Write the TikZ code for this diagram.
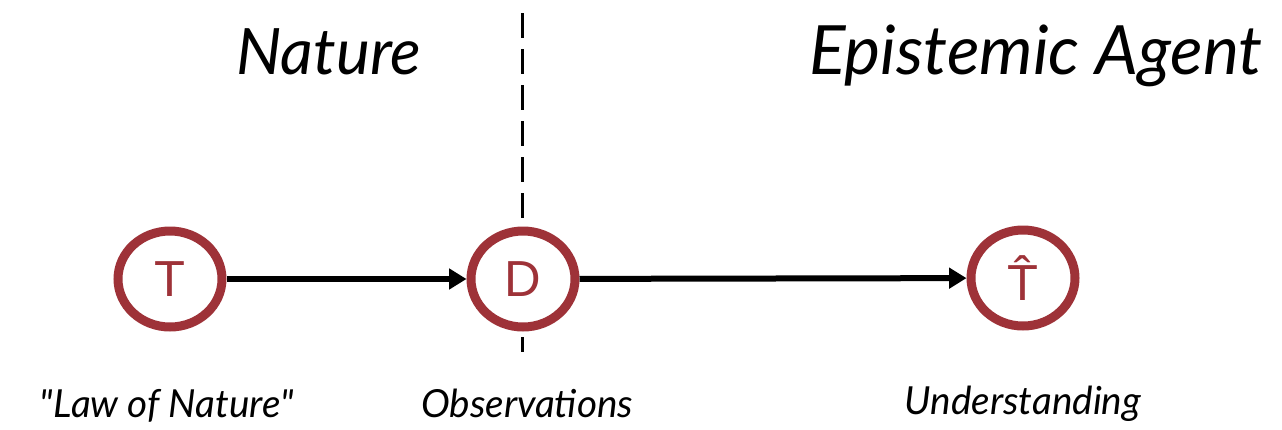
\documentclass[tikz,border=0pt]{standalone}
\usepackage{fontspec}
\setmainfont{Lato}
\newfontfamily\arialfont{Liberation Sans}
\usetikzlibrary{shapes.geometric,arrows.meta}
\definecolor{nodered}{RGB}{158,50,56}
\tikzset{
  var/.style={ellipse, draw=nodered, fill=white, line width=6.75pt, minimum width=78pt, minimum height=72pt, inner sep=0pt, text=nodered, font=\arialfont\fontsize{38}{40}\selectfont},
  conn/.style={line width=4.5pt, -{Triangle[length=13pt,width=15pt]}, shorten >=0pt},
  head/.style={font=\itshape\fontsize{48}{54}\selectfont, anchor=base},
  lab/.style={font=\itshape\fontsize{29}{34}\selectfont, anchor=base},
}
\begin{document}
\begin{tikzpicture}[x=0.75pt,y=-0.75pt]
\useasboundingbox (0,0) rectangle (1282,429);
\coordinate (dtop) at (522,13);
\coordinate (dbot) at (522,352);
\draw[line width=2.25pt, dash pattern=on 19pt off 8pt] (dtop) -- (dbot);
\node[var] (T) at (170,279) {T};
\node[var] (D) at (523,279) {D};
\node[var] (Th) at (1023,278) {\^{T}};
\draw[conn] (T) -- (D);
\draw[conn] (D) -- (Th);
\node[head] (nat) at (329,74) {Nature};
\node[head, font=\itshape\fontsize{51}{56}\selectfont] (epi) at (1036,74) {Epistemic Agent};
\node[lab] (law) at (167,417) {\textquotedbl Law of Nature\textquotedbl};
\node[lab] (obs) at (527,417) {Observations};
\node[lab] (und) at (1023,414) {Understanding};
\end{tikzpicture}
\end{document}
